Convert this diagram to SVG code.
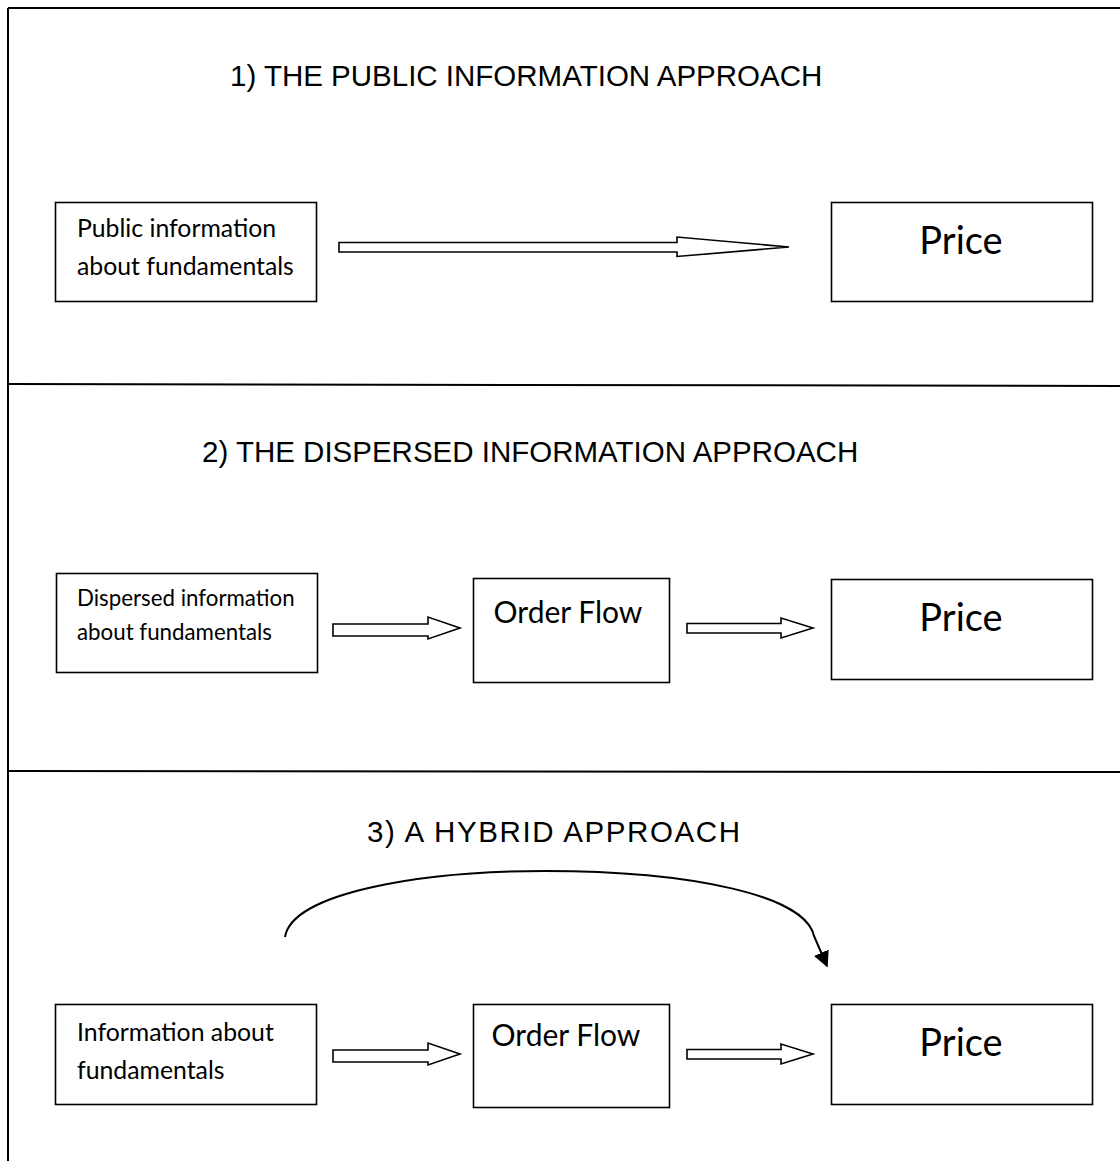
<svg xmlns="http://www.w3.org/2000/svg" width="1120" height="1161" viewBox="0 0 1120 1161">
<defs>
<style>
.frame{stroke:#000;stroke-width:2;fill:none}
.box{fill:#fff;stroke:#000;stroke-width:1.6}
.arrow{fill:#fff;stroke:#000;stroke-width:1.6;stroke-linejoin:miter}
.title{font-family:"Liberation Sans",Arial,sans-serif;font-size:29.5px;fill:#000}
.lbl{font-family:Lato,"Open Sans",sans-serif;font-size:24.8px;fill:#000}
.lbls{font-family:Lato,"Open Sans",sans-serif;font-size:22.3px;fill:#000}
.mid{font-family:Lato,"Open Sans",sans-serif;font-size:30px;fill:#000;text-anchor:middle}
.big{font-family:Lato,"Open Sans",sans-serif;font-size:38px;fill:#000;text-anchor:middle}
</style>
<marker id="tri" viewBox="0 0 10 10" refX="9" refY="5" markerWidth="16" markerHeight="16" markerUnits="userSpaceOnUse" orient="auto">
<path d="M0,0 L10,5 L0,10 Z" fill="#000"/>
</marker>
</defs>
<rect width="1120" height="1161" fill="#fff"/>
<g id="frame">
<line class="frame" x1="8" y1="8" x2="1120" y2="8"/>
<line class="frame" x1="8" y1="8" x2="8" y2="1161"/>
<line class="frame" x1="8" y1="384" x2="1120" y2="386"/>
<line class="frame" x1="8" y1="771" x2="1120" y2="772"/>
</g>
<g id="titles">
<text class="title" x="230" y="86">1) THE PUBLIC INFORMATION APPROACH</text>
<text class="title" x="202" y="462">2) THE DISPERSED INFORMATION APPROACH</text>
<text class="title" x="367" y="842" textLength="373" lengthAdjust="spacing">3) A HYBRID APPROACH</text>
</g>
<g id="node-public">
<rect class="box" x="55.5" y="202.5" width="261" height="99"/>
<text class="lbl" x="77" y="237">Public information</text>
<text class="lbl" x="77" y="275">about fundamentals</text>
</g>
<g id="node-price1">
<rect class="box" x="831.5" y="202.5" width="261" height="99"/>
<text class="big" x="961" y="254">Price</text>
</g>
<g id="node-dispersed">
<rect class="box" x="56.5" y="573.5" width="261" height="99"/>
<text class="lbls" x="77" y="606">Dispersed information</text>
<text class="lbls" x="77" y="640">about fundamentals</text>
</g>
<g id="node-orderflow2">
<rect class="box" x="473.5" y="578.5" width="196" height="104"/>
<text class="mid" x="568" y="623">Order Flow</text>
</g>
<g id="node-price2">
<rect class="box" x="831.5" y="579.5" width="261" height="100"/>
<text class="big" x="961" y="631">Price</text>
</g>
<g id="node-info">
<rect class="box" x="55.5" y="1004.5" width="261" height="100"/>
<text class="lbl" x="77" y="1041">Information about</text>
<text class="lbl" x="77" y="1079">fundamentals</text>
</g>
<g id="node-orderflow3">
<rect class="box" x="473.5" y="1004.5" width="196" height="103"/>
<text class="mid" x="566" y="1046">Order Flow</text>
</g>
<g id="node-price3">
<rect class="box" x="831.5" y="1004.5" width="261" height="100"/>
<text class="big" x="961" y="1056">Price</text>
</g>
<g id="connectors">
<path class="arrow" d="M339,242.5 L677,242.5 L677,237 L789,247 L677,256.5 L677,252 L339,252 Z"/>
<path class="arrow" d="M333,624 L428,624 L428,617 L460,628 L428,639 L428,636 L333,636 Z"/>
<path class="arrow" d="M687,623.5 L781,623.5 L781,618 L813,628 L781,638 L781,633 L687,633 Z"/>
<path class="arrow" d="M333,1050 L428,1050 L428,1043 L460,1054 L428,1065 L428,1062 L333,1062 Z"/>
<path class="arrow" d="M687,1049.5 L781,1049.5 L781,1044 L813,1054 L781,1064 L781,1059 L687,1059 Z"/>
<path fill="none" stroke="#000" stroke-width="2" marker-end="url(#tri)" d="M285,937 C292,893 420,871 545,871 C690,871 805,895 814,936 L827,966"/>
</g>
</svg>
